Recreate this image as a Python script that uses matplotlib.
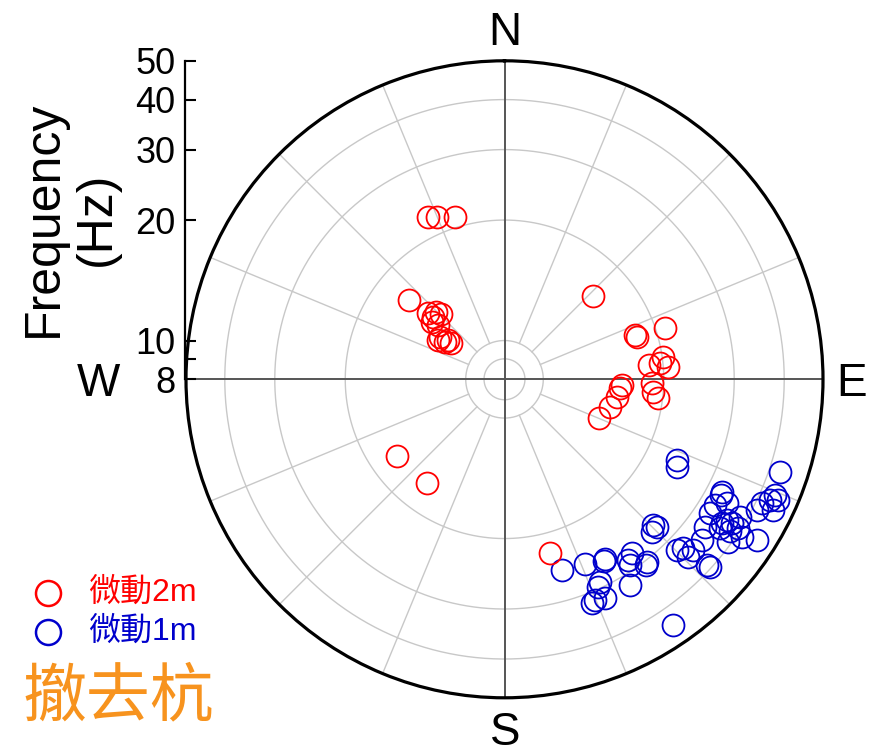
import numpy as np
import matplotlib
matplotlib.use("Agg")
import matplotlib.pyplot as plt
from matplotlib.lines import Line2D
from matplotlib.ticker import NullLocator

plt.rcParams['font.family'] = ['Liberation Sans', 'Noto Sans CJK TC']

# azimuth (deg, clockwise from N) and frequency (Hz)
red_az = [334.8, 337.3, 343.0, 309.7, 310.9, 314.9, 311.3, 315.5, 308.4, 309.4,
          303.4, 302.3, 304.3, 300.7, 305.0, 46.8, 71.3, 72.1, 72.4, 84.3,
          81.9, 85.6, 84.1, 92.8, 94.5, 98.8, 104.6, 112.4, 91.6, 94.8,
          97.0, 234.6, 216.8, 165.3]
red_f = [22.4, 22.0, 21.2, 16.3, 14.3, 13.9, 13.8, 13.5, 13.6, 13.1,
         12.5, 12.0, 11.6, 12.5, 11.9, 16.1, 17.7, 17.8, 21.1, 18.4,
         20.1, 20.6, 19.7, 15.7, 15.6, 15.4, 15.0, 14.4, 18.7, 18.9,
         19.5, 17.1, 16.9, 22.5]

blue_az = [163.2, 156.5, 150.7, 151.4, 143.8, 145.6, 146.0, 142.1, 142.6, 154.7,
           155.7, 148.6, 155.3, 157.7, 158.7, 134.4, 134.0, 136.0, 145.5, 115.1,
           116.9, 108.5, 113.2, 114.4, 113.8, 115.7, 117.4, 115.9, 117.4, 118.2,
           120.8, 119.2, 123.1, 122.3, 123.5, 122.4, 120.3, 124.7, 124.0, 122.5,
           126.3, 123.6, 122.5, 129.2, 133.4, 134.0, 132.1, 132.6, 132.4, 126.0,
           134.7]
blue_f = [25.1, 25.5, 26.1, 26.4, 27.6, 28.2, 29.0, 30.3, 30.7, 29.0,
          29.6, 32.0, 32.0, 31.6, 31.9, 26.5, 27.2, 27.1, 44.5, 23.9,
          24.3, 42.6, 43.5, 42.9, 44.8, 41.4, 41.0, 44.7, 32.7, 32.8,
          32.8, 34.6, 32.8, 36.3, 35.8, 37.6, 38.4, 36.1, 38.3, 39.4,
          33.5, 41.2, 44.7, 34.6, 32.9, 34.8, 34.6, 38.8, 39.6, 39.3,
          32.3]

labels = ["微動2m", "微動1m"]
colors = ["#ff0000", "#0000cc"]
ring_freqs = [9, 10, 20, 30, 40]
r_ticks = [8, 9, 10, 20, 30, 40, 50]
r_ticklabels = ["8", "", "10", "20", "30", "40", "50"]
fmin, fmax = 8, 50

W, H = 879, 755
cx, cy, R = 504.5, 379.3, 318.5
fig = plt.figure(figsize=(W / 100, H / 100), dpi=100)
ax = fig.add_axes([(cx - R) / W, (H - cy - R) / H, 2 * R / W, 2 * R / H], projection='polar')
ax.set_theta_zero_location('N')
ax.set_theta_direction(-1)
rmin, rmax = np.log10(fmin), np.log10(fmax)
ax.set_ylim(rmin, rmax)
ax.set_xticks([])
ax.set_yticks([])
ax.grid(False)
ax.spines['polar'].set_linewidth(2.3)

# grid
th = np.linspace(0, 2 * np.pi, 400)
for f in ring_freqs:
    ax.plot(th, np.full_like(th, np.log10(f)), color='#c8c8c8', lw=1.0, zorder=1)
for a in np.arange(0, 360, 22.5):
    t = np.deg2rad(a)
    if a % 90:
        ax.plot([t, t], [np.log10(10), rmax], color='#c8c8c8', lw=1.0, zorder=1)
    else:
        ax.plot([t, t], [rmin, rmax], color='#555555', lw=1.4, zorder=2)

ax.plot(np.deg2rad(blue_az), np.log10(blue_f), 'o', mfc='none', mec=colors[1],
        ms=15.8, mew=1.3, zorder=3, clip_on=False)
ax.plot(np.deg2rad(red_az), np.log10(red_f), 'o', mfc='none', mec=colors[0],
        ms=15.8, mew=1.3, zorder=4, clip_on=False)

# radial (frequency) axis on the left
ax2 = fig.add_axes([185 / W, (H - cy) / H, 0.0001, R / H])
ax2.patch.set_visible(False)
ax2.set_yscale('log')
ax2.set_ylim(fmin, fmax)
ax2.set_yticks(r_ticks)
ax2.set_yticklabels(r_ticklabels)
ax2.yaxis.set_minor_locator(NullLocator())
ax2.set_xticks([])
for s in ['right', 'top', 'bottom']:
    ax2.spines[s].set_visible(False)
ax2.spines['left'].set_linewidth(1.6)
ax2.tick_params(axis='y', direction='in', length=8, width=1.5, labelsize=26, pad=7)

fig.text(70 / W, 1 - 219 / H, "Frequency\n(Hz)", rotation=90, ha='center', va='center',
         fontsize=36, multialignment='center')

for txt, x, y in [("N", 505, 45), ("E", 852, 396), ("S", 505, 745), ("W", 98, 396)]:
    fig.text(x / W, 1 - y / H, txt, ha='center', va='baseline', fontsize=33)

# legend
for i, (lab, c) in enumerate(zip(labels, colors)):
    y = 593 + 39 * i
    fig.add_artist(Line2D([48 / W], [1 - y / H], marker='o', mfc='none', mec=c,
                          ms=18, mew=1.8, transform=fig.transFigure))
    fig.text(88 / W, 1 - y / H, lab, color=c, fontsize=23, ha='left', va='center')

fig.text(22 / W, 1 - 697 / H, "撤去杭", color='#f7931e', fontsize=46, ha='left', va='center',
         family=['Noto Sans CJK TC'])

fig.savefig("out.png", dpi=100)
